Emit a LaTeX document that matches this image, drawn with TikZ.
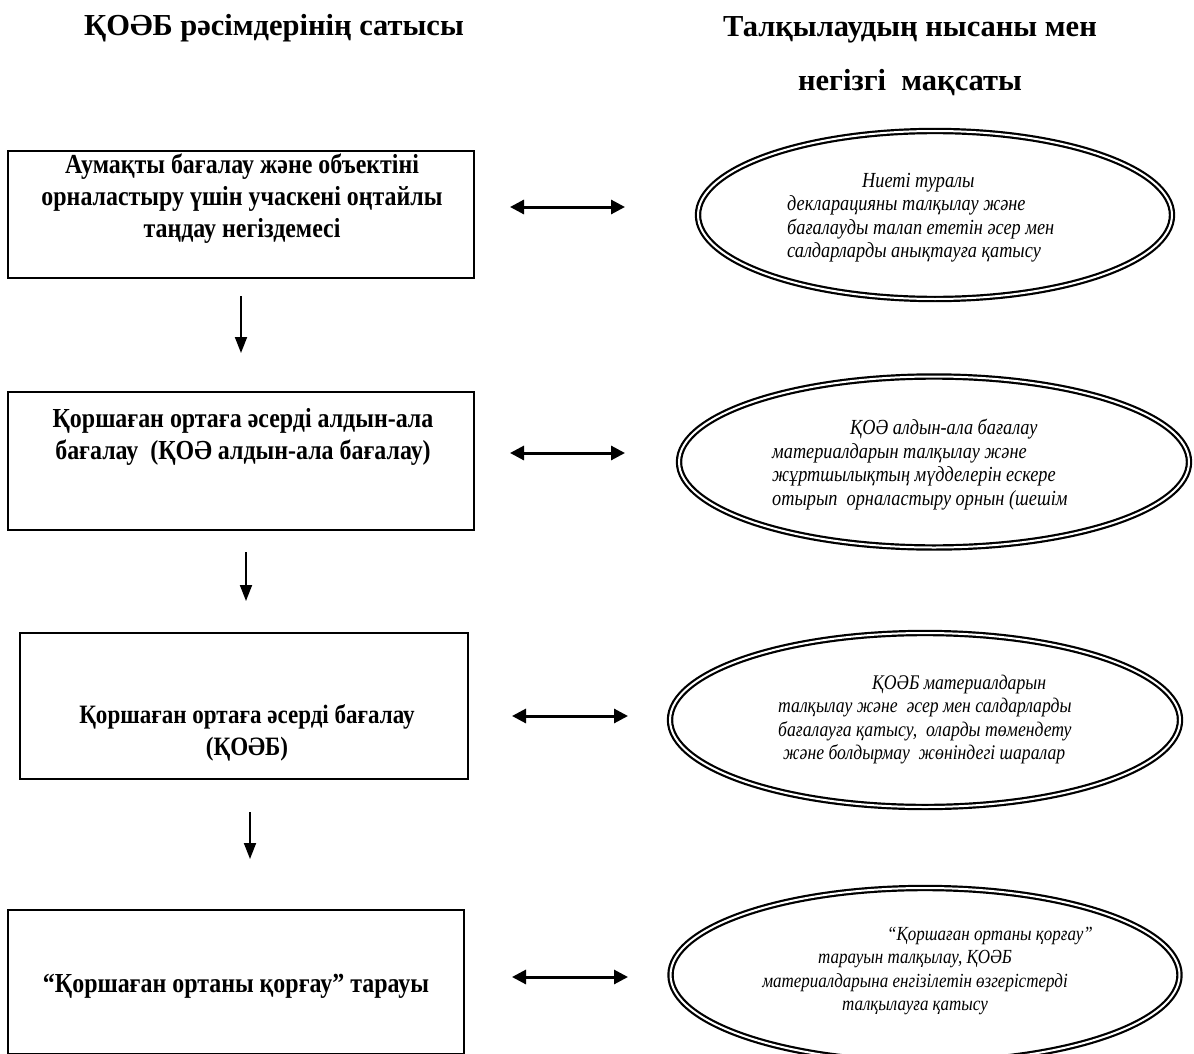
\documentclass[tikz,border=0pt]{standalone}
\usepackage{fontspec}
\usetikzlibrary{arrows.meta,shapes.geometric}
\setmainfont{Liberation Serif}
\newfontfamily\boxfont{Liberation Serif}[FakeStretch=0.87]
\newfontfamily\ellfont{Liberation Serif Italic}[FakeStretch=0.85]
\tikzset{
  x=1pt, y=-1pt,
  stagebox/.style={draw, line width=2pt, rectangle, inner sep=0pt},
  stagetext/.style={font={\boxfont\bfseries\fontsize{27.5}{32}\selectfont}, align=center, inner sep=0pt},
  headtext/.style={font={\bfseries\fontsize{30.5}{54}\selectfont}, align=center, inner sep=0pt},
  goalell/.style={draw, ellipse, double, line width=2.2pt, double distance=2pt, inner sep=0pt},
  goaltext/.style={font={\ellfont\fontsize{21.5}{23.5}\selectfont}, inner sep=0pt},
  downarrow/.style={line width=1.8pt, -{Triangle[length=16pt,width=12pt]}},
  botharrow/.style={line width=3pt, {Triangle[length=14pt,width=14pt]}-{Triangle[length=14pt,width=14pt]}},
}
\begin{document}
\begin{tikzpicture}
\useasboundingbox (0,0) rectangle (1194,1054);
% headings
\node[headtext] (h1) at (274,28) {ҚОӘБ рәсімдерінің сатысы};
\node[headtext] (h2) at (910,56) {Талқылаудың нысаны мен\\негізгі\ \ мақсаты};
% stage boxes
\node[stagebox, minimum width=466pt, minimum height=127pt] (b1) at (241,214.5) {};
\node[stagetext] (t1) at (242,199) {Аумақты бағалау және объектіні\\орналастыру үшін учаскені оңтайлы\\таңдау негіздемесі};
\node[stagebox, minimum width=466pt, minimum height=138pt] (b2) at (241,461) {};
\node[stagetext] (t2) at (243,437) {Қоршаған ортаға әсерді алдын-ала\\бағалау\ \ (ҚОӘ алдын-ала бағалау)};
\node[stagebox, minimum width=448pt, minimum height=146pt] (b3) at (244,706) {};
\node[stagetext, font={\boxfont\bfseries\fontsize{26.5}{32}\selectfont}] (t3) at (247,733) {Қоршаған ортаға әсерді бағалау\\(ҚОӘБ)};
\node[stagebox, minimum width=456pt, minimum height=144pt] (b4) at (236,982) {};
\node[stagetext] (t4) at (236,986) {“Қоршаған ортаны қорғау” тарауы};
% down arrows
\coordinate (d1s) at (241,296); \coordinate (d1e) at (241,353);
\coordinate (d2s) at (246,552); \coordinate (d2e) at (246,601);
\coordinate (d3s) at (250,812); \coordinate (d3e) at (250,859);
\draw[downarrow] (d1s) -- (d1e);
\draw[downarrow] (d2s) -- (d2e);
\draw[downarrow] (d3s) -- (d3e);
% ellipses
\node[goalell, minimum width=474pt, minimum height=168pt] (e1) at (935,215) {};
\node[goalell, minimum width=510pt, minimum height=171pt] (e2) at (934,462) {};
\node[goalell, minimum width=510pt, minimum height=174pt] (e3) at (925,720) {};
\node[goalell, minimum width=509pt, minimum height=174pt] (e4) at (925,975) {};
% double arrows
\coordinate (l1) at (510,207); \coordinate (r1) at (625,207);
\coordinate (l2) at (510,453); \coordinate (r2) at (625,453);
\coordinate (l3) at (512,716); \coordinate (r3) at (628,716);
\coordinate (l4) at (512,977); \coordinate (r4) at (628,977);
\draw[botharrow] (l1) -- (r1);
\draw[botharrow] (l2) -- (r2);
\draw[botharrow] (l3) -- (r3);
\draw[botharrow] (l4) -- (r4);
% ellipse texts
\node[goaltext, anchor=north west, align=left] (g1) at (787,173) {\hspace*{75pt}Ниеті туралы\\декларацияны талқылау және\\бағалауды талап ететін әсер мен\\салдарларды анықтауға қатысу};
\node[goaltext, anchor=north west, align=left] (g2) at (772,419) {\hspace*{78pt}ҚОӘ алдын-ала бағалау\\материалдарын талқылау және\\жұртшылықтың мүдделерін\ ескере\\отырып\ \ орналастыру орнын (шешім};
\node[goaltext, anchor=north west, align=left, font={\ellfont\fontsize{20.8}{23.3}\selectfont}] (g3) at (778,675) {\hspace*{94pt}ҚОӘБ материалдарын\\талқылау және\ \ әсер мен салдарларды\\бағалауға қатысу,\ \ оларды төмендету\\\hspace*{5pt}және болдырмау\ \ жөніндегі шаралар};
\node[goaltext, anchor=north, align=center, font={\ellfont\fontsize{20}{23.3}\selectfont}] (g4) at (915,927) {\hspace*{150pt}“Қоршаған ортаны қорғау”\\тарауын талқылау, ҚОӘБ\\материалдарына енгізілетін өзгерістерді\\талқылауға қатысу};
\end{tikzpicture}
\end{document}
